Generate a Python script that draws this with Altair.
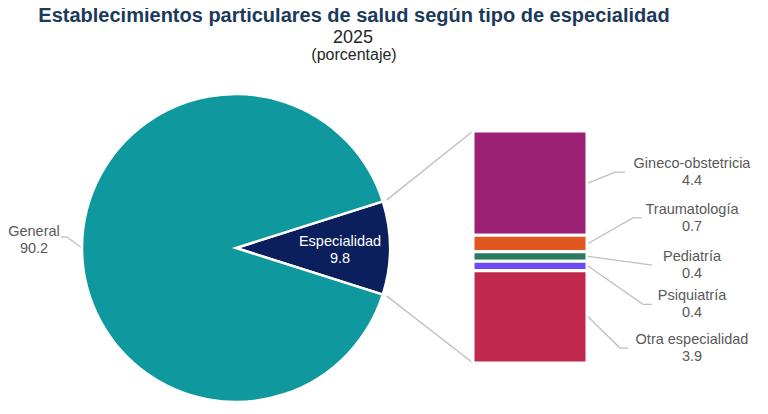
import math
import pandas as pd
import altair as alt

FONT = "Liberation Sans"
GRAY_TEXT = "#595959"
GRAY_LINE = "#bfbfbf"

# pie: general vs. speciality
tipos = ["Especialidad", "General"]
tipo_pct = [9.8, 90.2]
tipo_colores = ["#0b1f5c", "#0f989d"]

# breakdown of "Especialidad" (top to bottom in the bar)
especialidades = ["Gineco-obstetricia", "Traumatología", "Pediatría", "Psiquiatría", "Otra especialidad"]
esp_pct = [4.4, 0.7, 0.4, 0.4, 3.9]
esp_colores = ["#9c2174", "#e0561f", "#2a7a62", "#6a4cf6", "#c0284d"]

# label placement on the right (label y in bar units, leader x in px)
label_y = [8.06, 6.13, 4.13, 2.48, 0.63]
elbow_x = [607, 625, 644, 635, 612]
end_x = [617, 634, 644, 644, 620]

TOP_PAD = 8
W, H = 752, 398 - TOP_PAD
PIE_CX, PIE_CY, PIE_R = 228, 232, 154
BAR_X0, BAR_X1 = 465, 579
BAR_TOP, BAR_BOTTOM = 115, 347
LABEL_X = 684
LABEL_SIZE = 14.5
LINE_H = 17

total = sum(tipo_pct)
esp_total = sum(esp_pct)
half = math.pi * tipo_pct[0] / total
start = math.pi / 2 - half

pie = pd.DataFrame({
    "tipo": tipos,
    "pct": tipo_pct,
    "orden": [0, 1],
    "color": tipo_colores,
    "label": [f"{t}\n{v}" for t, v in zip(tipos, tipo_pct)],
})

# stacked bar from the bottom up
fin, acc = [], 0.0
for v in reversed(esp_pct):
    acc += v
    fin.append(acc)
fin = list(reversed(fin))
bar = pd.DataFrame({
    "especialidad": especialidades,
    "pct": esp_pct,
    "fin": fin,
    "ini": [f - v for f, v in zip(fin, esp_pct)],
    "color": esp_colores,
    "label_v": label_y,
    "label": [f"{e}\n{v}" for e, v in zip(especialidades, esp_pct)],
})
bar["mid"] = (bar["ini"] + bar["fin"]) / 2

leader_rows = []
for i, r in bar.iterrows():
    leader_rows.append({"esp": r["especialidad"], "k": 0, "px": BAR_X1 + 1, "v": r["mid"]})
    leader_rows.append({"esp": r["especialidad"], "k": 1, "px": elbow_x[i], "v": r["label_v"]})
    leader_rows.append({"esp": r["especialidad"], "k": 2, "px": end_x[i], "v": r["label_v"]})
leaders = pd.DataFrame(leader_rows)

theta_scale = alt.Scale(domain=[0, total], range=[start, start + 2 * math.pi])
bar_scale = alt.Scale(domain=[0, esp_total], range=[BAR_BOTTOM, BAR_TOP], nice=False, zero=False)
px_x = alt.Scale(domain=[0, W], range=[0, W], nice=False, zero=False)
px_y = alt.Scale(domain=[0, H], range=[0, H], nice=False, zero=False)

arcs = alt.Chart(pie).mark_arc(radius=PIE_R, stroke="white", strokeWidth=2.5).encode(
    theta=alt.Theta("pct:Q", stack=True, scale=theta_scale),
    order=alt.Order("orden:Q"),
    color=alt.Color("color:N", scale=None),
    x=alt.value(PIE_CX),
    y=alt.value(PIE_CY),
)

arc_text = alt.Chart(pie).transform_filter(alt.datum.tipo == "Especialidad").mark_text(
    radius=104, color="white", fontSize=LABEL_SIZE, font=FONT, lineBreak="\n",
    lineHeight=LINE_H, dy=-6
).encode(
    theta=alt.Theta("pct:Q", stack=True, scale=theta_scale),
    text="label:N",
    x=alt.value(PIE_CX),
    y=alt.value(PIE_CY),
)

# general label, outside left
gen = pie[pie["tipo"] == "General"]
gen_text = alt.Chart(gen).mark_text(
    color=GRAY_TEXT, fontSize=LABEL_SIZE, font=FONT, lineBreak="\n", lineHeight=LINE_H
).encode(x=alt.value(26), y=alt.value(216), text="label:N")

pe_x = PIE_CX - PIE_R
gen_lead = pd.DataFrame({"x": [53, 59], "x2": [59, pe_x], "y": [221, 221], "y2": [221, PIE_CY]})
gen_rule = alt.Chart(gen_lead).mark_rule(color=GRAY_LINE, strokeWidth=1.3).encode(
    x=alt.X("x:Q", scale=px_x, axis=None), x2="x2:Q",
    y=alt.Y("y:Q", scale=px_y, axis=None), y2="y2:Q",
)

# connectors from the wedge to the bar
cr = PIE_R + 4
conn = pd.DataFrame({
    "x": [PIE_CX + cr * math.cos(half)] * 2,
    "y": [PIE_CY - cr * math.sin(half), PIE_CY + cr * math.sin(half)],
    "x2": [BAR_X0, BAR_X0],
    "y2": [BAR_TOP, BAR_BOTTOM],
})
conn_rule = alt.Chart(conn).mark_rule(color=GRAY_LINE, strokeWidth=1.3).encode(
    x=alt.X("x:Q", scale=px_x, axis=None), x2="x2:Q",
    y=alt.Y("y:Q", scale=px_y, axis=None), y2="y2:Q",
)

bars = alt.Chart(bar).mark_bar(stroke="white", strokeWidth=3).encode(
    x=alt.value(BAR_X0),
    x2=alt.value(BAR_X1),
    y=alt.Y("ini:Q", scale=bar_scale, axis=None),
    y2="fin:Q",
    color=alt.Color("color:N", scale=None),
)

lead_lines = alt.Chart(leaders).mark_line(color=GRAY_LINE, strokeWidth=1.3).encode(
    x=alt.X("px:Q", scale=px_x, axis=None),
    y=alt.Y("v:Q", scale=bar_scale, axis=None),
    detail="esp:N",
    order="k:Q",
)

bar_text = alt.Chart(bar).mark_text(
    color=GRAY_TEXT, fontSize=LABEL_SIZE, font=FONT, lineBreak="\n", lineHeight=LINE_H, dy=-8
).encode(
    x=alt.value(LABEL_X),
    y=alt.Y("label_v:Q", scale=bar_scale, axis=None),
    text="label:N",
)

# titles
one = pd.DataFrame({"a": [0]})
t1 = alt.Chart(one).mark_text(
    text="Establecimientos particulares de salud según tipo de especialidad",
    font=FONT, fontSize=20, fontWeight="bold", color="#1b3a5c", baseline="alphabetic",
).encode(x=alt.value(346), y=alt.value(6))
t2 = alt.Chart(one).mark_text(
    text="2025", font=FONT, fontSize=18, color="#262626", baseline="alphabetic"
).encode(x=alt.value(345), y=alt.value(27))
t3 = alt.Chart(one).mark_text(
    text="(porcentaje)", font=FONT, fontSize=16, color="#262626", baseline="alphabetic"
).encode(x=alt.value(346), y=alt.value(44))

chart = alt.layer(
    conn_rule, gen_rule, arcs, arc_text, gen_text, bars, lead_lines, bar_text, t1, t2, t3
).resolve_scale(
    y="independent"
).properties(
    width=W, height=H, autosize=alt.AutoSizeParams(type="none"),
    padding={"top": TOP_PAD, "left": 0, "right": 0, "bottom": 0}
).configure_view(stroke=None)

chart.save("out.html", embed_options={"renderer": "svg", "actions": False})
